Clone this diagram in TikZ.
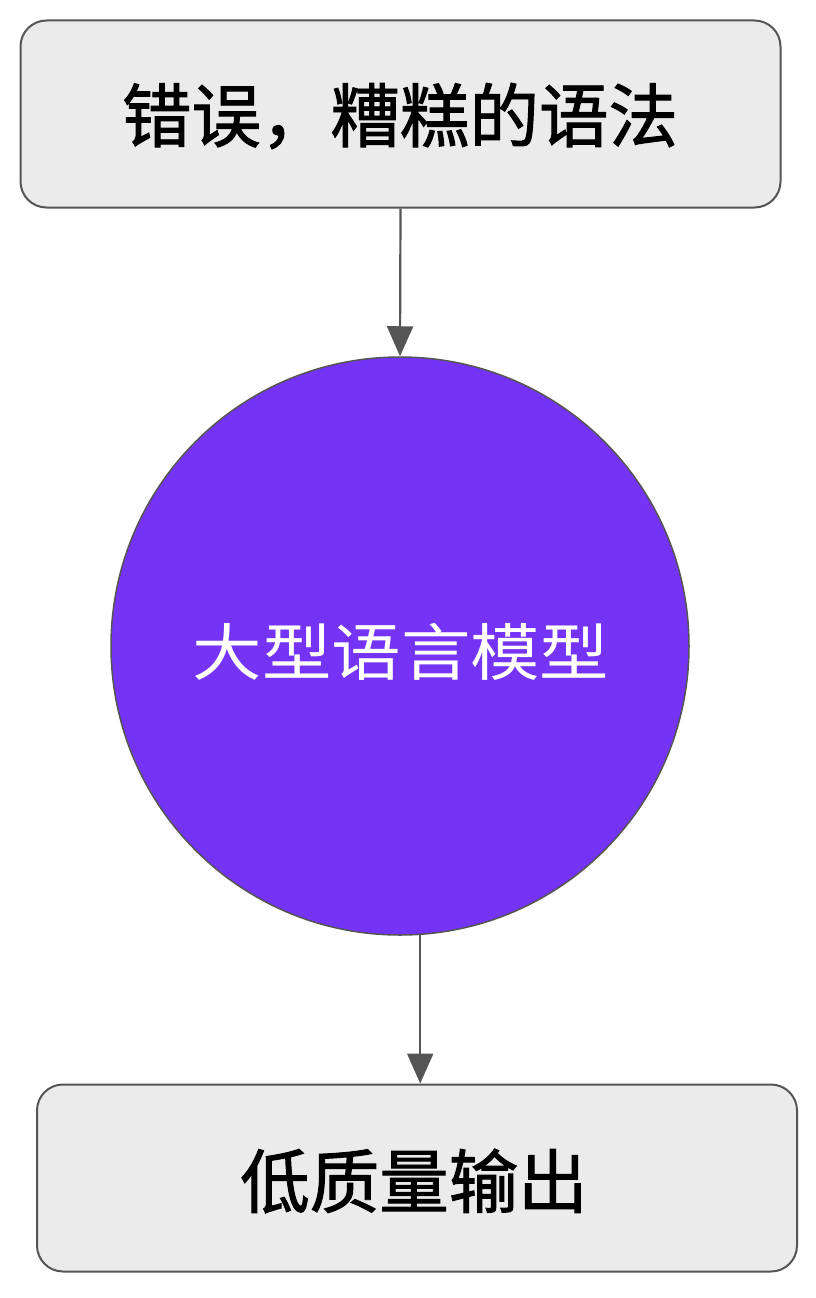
\documentclass[tikz,border=0pt]{standalone}
\usepackage{fontspec}
\newfontfamily\cjk{Noto Sans CJK SC}
\newfontfamily\cjkb[FakeBold=1.4]{Noto Sans CJK SC}
\usetikzlibrary{arrows.meta}
\definecolor{boxfill}{HTML}{EBEBEB}
\definecolor{edge}{HTML}{555555}
\definecolor{llm}{HTML}{7433F5}
\tikzset{
  box/.style={draw=edge, line width=2pt, fill=boxfill, rounded corners=26pt,
    minimum width=760pt, minimum height=187pt, inner sep=0pt},
  boxtext/.style={font=\cjkb\fontsize{69.5pt}{75pt}\selectfont, text=black, inner sep=0pt},
  llmnode/.style={circle, draw=edge, line width=1.5pt, fill=llm, minimum size=578pt,
    inner sep=0pt},
  llmtext/.style={font=\cjk\fontsize{62pt}{70pt}\selectfont, text=white, inner sep=0pt},
  arr/.style={draw=edge, line width=2.2pt, -{Triangle[length=30pt,width=26pt]}}
}
\begin{document}
\begin{tikzpicture}[x=1pt,y=-1pt]
\useasboundingbox[fill=white] (0,0) rectangle (816,1298);
\node[box] (top) at (400.5,114) {};
\node[boxtext] (toptext) at (400,116) {错误，糟糕的语法};
\node[llmnode] (c) at (400,646) {};
\node[llmtext] (ctext) at (401,652) {\scalebox{1.12}[1]{大型语言模型}};
\node[box] (bot) at (417,1178) {};
\node[boxtext] (bottext) at (414,1181) {低质量输出};
\draw[arr] (top.south) -- (c.north);
\draw[arr] (c.-86.6) -- (c.-86.6 |- bot.north);
\end{tikzpicture}
\end{document}
